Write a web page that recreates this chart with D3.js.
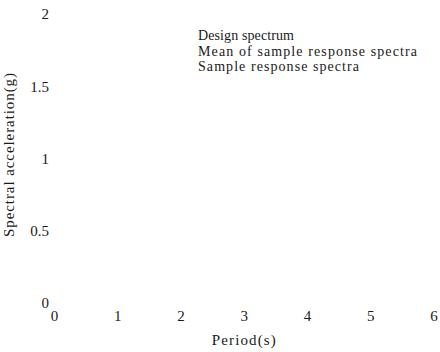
<!DOCTYPE html>
<html>
<head>
<meta charset="utf-8">
<script src="https://cdn.jsdelivr.net/npm/d3@7"></script>
<style>
  body { margin: 0; background: #fff; }
  svg text { font-family: "Liberation Serif", "Times New Roman", serif; fill: #1a1a1a; }
</style>
</head>
<body>
<svg id="chart" width="440" height="352"></svg>
<script>
// tick values on each axis
var xTicks = [0, 1, 2, 3, 4, 5, 6];
var yTicks = [0, 0.5, 1, 1.5, 2];
// legend entries (the chart has no plotted curves)
var seriesNames = ["Design spectrum", "Mean of sample response spectra", "Sample response spectra"];

var svgWidth = 440, svgHeight = 352;
var plotLeft = 54, plotRight = 433.5, plotTop = 14, plotBottom = 303;
var legendWidths = [96, 219, 161]; // the reference spreads its legend text out
var fontSize = 15;

var svg = d3.select("#chart");

var xScale = d3.scaleLinear()
    .domain([0, 6])
    .range([plotLeft, plotRight]);

var yScale = d3.scaleLinear()
    .domain([0, 2])
    .range([plotBottom, plotTop]);

var x_axis = d3.axisBottom(xScale)
    .tickValues(xTicks)
    .tickSize(0)
    .tickPadding(7)
    .tickFormat(d3.format("d"));

var y_axis = d3.axisLeft(yScale)
    .tickValues(yTicks)
    .tickSize(0)
    .tickPadding(5)
    .tickFormat(function(d){ return String(d); });

svg.append("g")
    .attr("transform", "translate(0," + plotBottom + ")")
    .call(x_axis);

svg.append("g")
    .attr("transform", "translate(" + plotLeft + ",0)")
    .call(y_axis);

// axis lines are invisible in the reference, only the labels show
svg.selectAll(".domain").remove();
svg.selectAll(".tick text")
    .attr("font-family", null)
    .style("font-size", fontSize + "px")
    .attr("fill", "#1a1a1a");

// axis titles
svg.append("text")
    .attr("x", (plotLeft + plotRight) / 2)
    .attr("y", 345)
    .attr("text-anchor", "middle")
    .attr("textLength", 64)
    .attr("lengthAdjust", "spacing")
    .style("font-size", fontSize + "px")
    .text("Period(s)");

svg.append("text")
    .attr("transform", "translate(13.5,155) rotate(-90)")
    .attr("text-anchor", "middle")
    .attr("textLength", 164)
    .attr("lengthAdjust", "spacing")
    .style("font-size", fontSize + "px")
    .text("Spectral acceleration(g)");

// legend, text only
svg.append("g")
    .selectAll("text")
    .data(seriesNames)
    .enter()
    .append("text")
    .attr("x", 198)
    .attr("y", function(d, i){
        return 40 + i * 15.5;
    })
    .attr("textLength", function(d, i){ return legendWidths[i]; })
    .attr("lengthAdjust", "spacing")
    .style("font-size", "14px")
    .text(function(d){ return d; });
</script>
</body>
</html>
